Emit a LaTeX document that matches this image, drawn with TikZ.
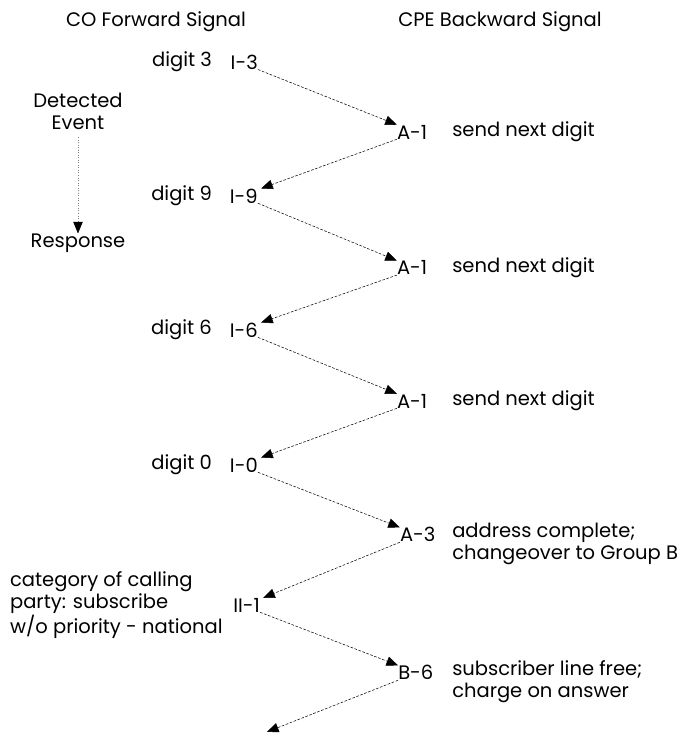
\documentclass[tikz,border=0pt]{standalone}
\usepackage{fontspec}
\setmainfont{Poppins}
\usetikzlibrary{positioning,arrows.meta}

\begin{document}
\begin{tikzpicture}[
  lbl/.style={font=\fontsize{18.5}{21}\selectfont, inner sep=0pt},
  sig/.style={-{Triangle[length=11pt,width=9pt]}, dash pattern=on 2.5pt off 1.5pt, line width=0.5pt},
  every node/.style={lbl}
]
\useasboundingbox (0,0) rectangle (22.8,-24.47);

\node (cofwd) at (5.2,-0.73) {CO Forward Signal};
\node (cpebwd) at (16.67,-0.73) {CPE Backward Signal};

% legend
\node (det) [align=center] at (2.6,-3.7) {Detected\\Event};
\node (resp) at (2.6,-8.1) {Response};
\draw[gray, dotted, line width=0.4pt, -{Triangle[length=11pt,width=9pt,color=black]}] (det.south) ++(0,-0.25) -- (resp.north);

% forward signals
\node (d3) [anchor=east] at (7.07,-2.07) {digit 3};
\node (i3) [anchor=east] at (8.6,-2.07) {I-3};
\node (d9) [anchor=east] at (7.07,-6.53) {digit 9};
\node (i9) [anchor=east] at (8.6,-6.53) {I-9};
\node (d6) [anchor=east] at (7.07,-11.0) {digit 6};
\node (i6) [anchor=east] at (8.6,-11.0) {I-6};
\node (d0) [anchor=east] at (7.07,-15.5) {digit 0};
\node (i0) [anchor=east] at (8.6,-15.5) {I-0};
\node (cat) [anchor=west, align=left] at (0.33,-20.17) {category of calling\\party: subscribe\\w/o priority - national};
\node (ii1) [anchor=east] at (8.67,-20.17) {II-1};
\coordinate (next) at (8.9,-24.4);

% backward signals
\node (a1a) [anchor=west] at (13.23,-4.4) {A-1};
\node (s1) [anchor=west] at (15.07,-4.4) {send next digit};
\node (a1b) [anchor=west] at (13.23,-8.93) {A-1};
\node (s2) [anchor=west] at (15.07,-8.93) {send next digit};
\node (a1c) [anchor=west] at (13.23,-13.37) {A-1};
\node (s3) [anchor=west] at (15.07,-13.37) {send next digit};
\node (a3) [anchor=west] at (13.33,-17.83) {A-3};
\node (s4) [anchor=west, align=left] at (15.07,-18.13) {address complete;\\changeover to Group B};
\node (b6) [anchor=west] at (13.27,-22.43) {B-6};
\node (s5) [anchor=west, align=left] at (15.07,-22.73) {subscriber line free;\\charge on answer};

\draw[sig] (i3.south east) -- (a1a.north west);
\draw[sig] (a1a.south west) -- ([xshift=3pt]i9.north east);
\draw[sig] (i9.south east) -- (a1b.north west);
\draw[sig] (a1b.south west) -- ([xshift=3pt]i6.north east);
\draw[sig] (i6.south east) -- (a1c.north west);
\draw[sig] (a1c.south west) -- ([xshift=3pt]i0.north east);
\draw[sig] (i0.south east) -- (a3.north west);
\draw[sig] (a3.south west) -- ([xshift=3pt]ii1.north east);
\draw[sig] (ii1.south east) -- (b6.north west);
\draw[sig] (b6.south west) -- (next);
\end{tikzpicture}
\end{document}
